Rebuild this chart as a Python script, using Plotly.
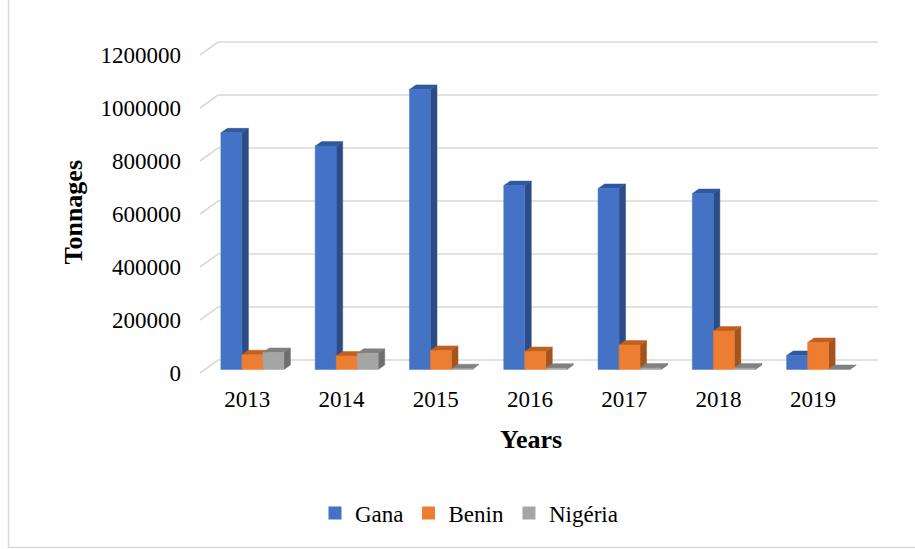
import plotly.graph_objects as go

# ---- data -------------------------------------------------------------
years = ["2013", "2014", "2015", "2016", "2017", "2018", "2019"]
series_names = ["Gana", "Benin", "Nigéria"]
gana = [893000, 843000, 1057000, 694000, 683000, 664000, 53000]
benin = [56000, 51000, 72000, 68000, 92000, 145000, 102000]
nigeria = [64000, 61000, 3000, 5000, 6000, 6000, 0]
y_ticks = [0, 200000, 400000, 600000, 800000, 1000000, 1200000]
y_tick_labels = ["0", "200000", "400000", "600000", "800000", "1000000", "1200000"]

# face colours: front, side, top
front_colors = ["#4472C4", "#ED7D31", "#A5A5A5"]
side_colors = ["#2B4C86", "#A5531D", "#6E6E6E"]
top_colors = ["#30589F", "#C0601F", "#808080"]

FONT = "Liberation Serif"
W, H = 915, 549

# ---- pseudo-3D geometry (pixels -> data units) ------------------------
PX_L, PX_R = 200, 885          # plot area, horizontal
PY_T, PY_B = 30, 380           # plot area, vertical
CAT_PX = 94.29                 # width of one category on the front plane
X_MIN = -0.5
X_MAX = X_MIN + (PX_R - PX_L) / CAT_PX
PX_PER_T = 0.000265            # vertical pixels per tonne
ZERO_PX = 373                  # front-plane zero line
Y_MIN = -(PY_B - ZERO_PX) / PX_PER_T
Y_MAX = (ZERO_PX - PY_T) / PX_PER_T


def dx(px):
    return px / CAT_PX


def dy(px):
    return px / PX_PER_T


WALL_DX, WALL_DY = dx(18), dy(13)       # offset of the back wall
BAR_DX, BAR_DY = dx(5.25), dy(3.5)      # offset of the bars' front faces
DEP_DX, DEP_DY = dx(6.5), dy(4.5)       # depth of each bar
BAR_W = dx(21)
X_WALL_END = X_MIN + (860 - PX_L) / CAT_PX + WALL_DX

fig = go.Figure()

# back-wall gridlines with their diagonal floor/side segments
gx, gy = [], []
for v in y_ticks:
    gx += [X_MIN, X_MIN + WALL_DX, X_WALL_END, None]
    gy += [v, v + WALL_DY, v + WALL_DY, None]
fig.add_trace(go.Scatter(x=gx, y=gy, mode="lines",
                         line=dict(color="#D9D9D9", width=1.6),
                         hoverinfo="skip", showlegend=False))

# bars: side, top and front faces, drawn series by series
all_values = [gana, benin, nigeria]
for s, values in enumerate(all_values):
    fx, fy, sx, sy, tx, ty = [], [], [], [], [], []
    for i, v in enumerate(values):
        x0 = i + BAR_DX - 1.5 * BAR_W + s * BAR_W
        x1 = x0 + BAR_W
        b = BAR_DY
        t = b + v
        fx += [x0, x1, x1, x0, x0, None]
        fy += [b, b, t, t, b, None]
        sx += [x1, x1 + DEP_DX, x1 + DEP_DX, x1, x1, None]
        sy += [b, b + DEP_DY, t + DEP_DY, t, b, None]
        tx += [x0, x1, x1 + DEP_DX, x0 + DEP_DX, x0, None]
        ty += [t, t, t + DEP_DY, t + DEP_DY, t, None]
    for xs, ys, col in ((sx, sy, side_colors[s]), (tx, ty, top_colors[s]),
                        (fx, fy, front_colors[s])):
        fig.add_trace(go.Scatter(x=xs, y=ys, mode="lines", fill="toself",
                                 fillcolor=col, line=dict(color=col, width=0.5),
                                 hoverinfo="skip", showlegend=False))

# legend entries
for s, name in enumerate(series_names):
    fig.add_trace(go.Scatter(x=[None], y=[None], mode="markers", name=name,
                             marker=dict(symbol="square", size=13,
                                         color=front_colors[s])))

fig.update_layout(
    width=W, height=H,
    margin=dict(l=0, r=0, t=0, b=0, autoexpand=False),
    paper_bgcolor="white", plot_bgcolor="white",
    font=dict(family=FONT, color="#000000", size=23),
    xaxis=dict(range=[X_MIN, X_MAX], domain=[PX_L / W, PX_R / W],
               tickmode="array", tickvals=list(range(len(years))),
               ticktext=years, showgrid=False, zeroline=False,
               showline=False, ticks="", ticklabelstandoff=3,
               automargin=False,
               tickfont=dict(family=FONT, size=23, color="#000000")),
    yaxis=dict(range=[Y_MIN, Y_MAX], domain=[1 - PY_B / H, 1 - PY_T / H],
               tickmode="array", tickvals=y_ticks, ticktext=y_tick_labels,
               showgrid=False, zeroline=False, showline=False, ticks="",
               ticklabelstandoff=18, automargin=False,
               tickfont=dict(family=FONT, size=23, color="#000000")),
    legend=dict(orientation="h", x=469 / W, xanchor="center",
                y=1 - 513 / H, yanchor="middle",
                font=dict(family=FONT, size=23, color="#000000"),
                bgcolor="rgba(0,0,0,0)"),
    annotations=[
        dict(text="<b>Tonnages</b>", x=72.5 / W, y=1 - 212 / H,
             xref="paper", yref="paper", showarrow=False, textangle=-90,
             xanchor="center", yanchor="middle",
             font=dict(family=FONT, size=26, color="#000000")),
        dict(text="<b>Years</b>", x=531 / W, y=1 - 439 / H,
             xref="paper", yref="paper", showarrow=False,
             xanchor="center", yanchor="middle",
             font=dict(family=FONT, size=26, color="#000000")),
    ],
    shapes=[dict(type="rect", xref="paper", yref="paper",
                 x0=8.5 / W, x1=1.02, y0=1 - 547.5 / H, y1=1.02,
                 line=dict(color="#D9D9D9", width=1.5))],
)

fig.write_html("out.html")
